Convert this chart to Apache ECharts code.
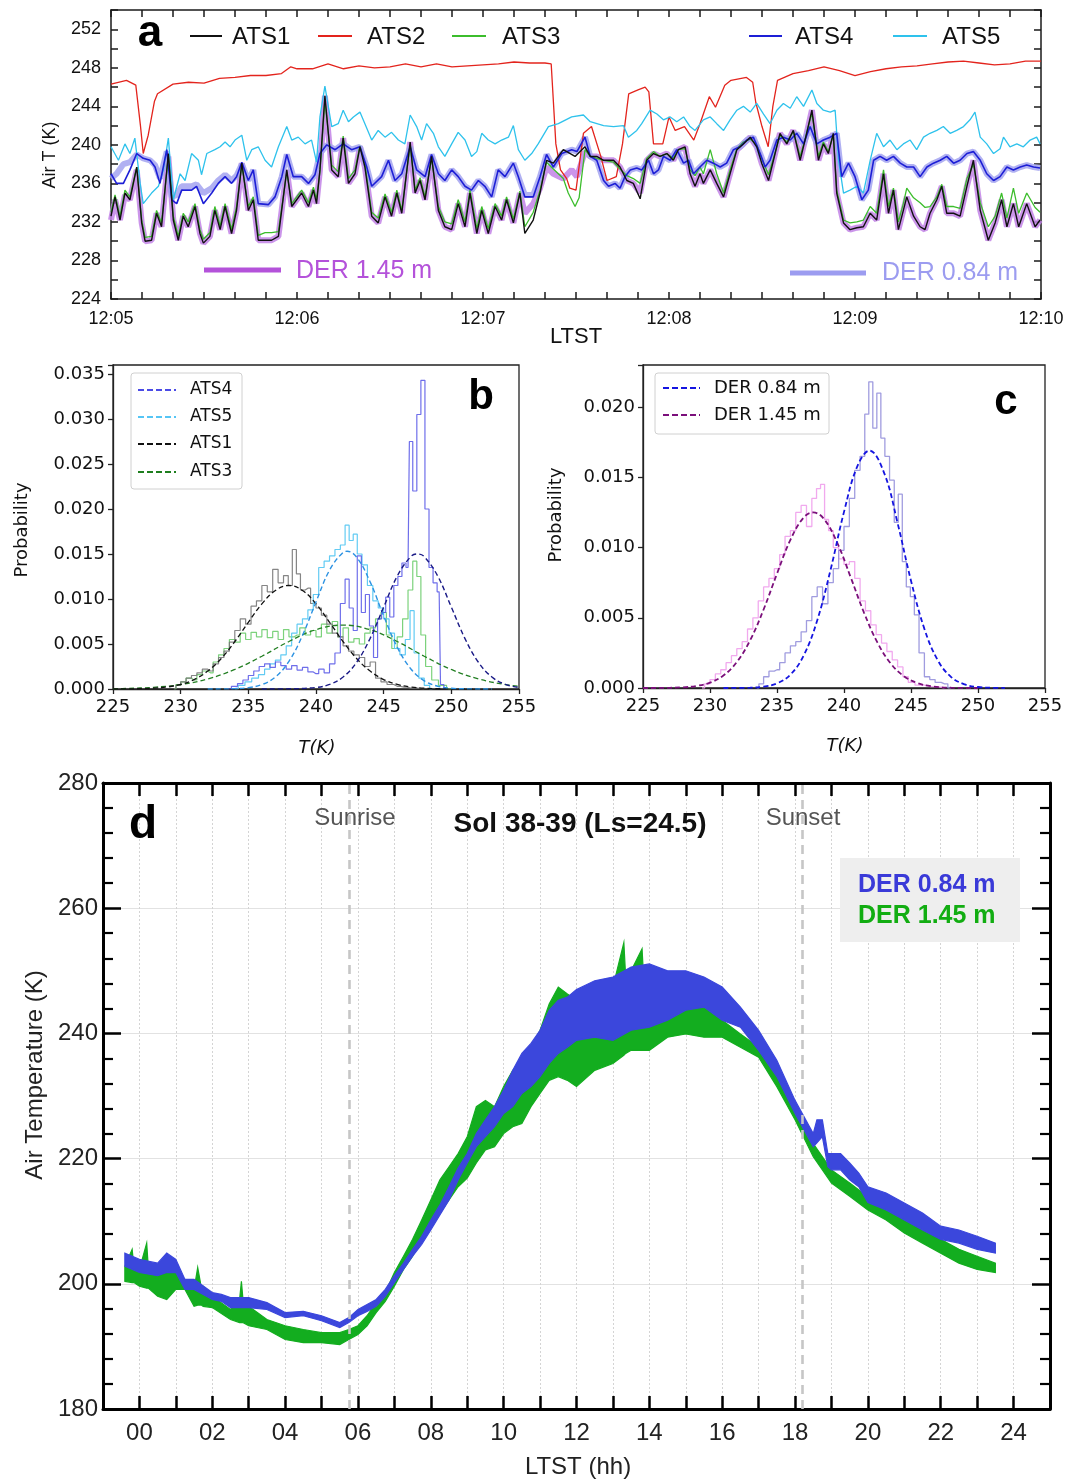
<!DOCTYPE html>
<html>
<head>
<meta charset="utf-8">
<script src="https://cdn.jsdelivr.net/npm/echarts@6.0.0/dist/echarts.min.js"></script>
<style>
  html, body { margin: 0; padding: 0; background: #fff; }
  #chart { width: 1083px; height: 1480px; }
</style>
</head>
<body>
<div id="chart"></div>
<script>
// ---------- panel a : 1 Hz air temperature, seconds after 12:05 LTST ----------
const ats1 = [[0,232.6],[1.3,234.6],[2.9,232.2],[4.5,235.0],[6.1,234.3],[8.3,237.7],[9.9,231.9],[11.0,230.0],[13.1,230.1],[14.7,232.9],[16.3,231.5],[18.5,239.1],[20.1,232.2],[21.7,230.1],[23.3,232.6],[24.9,231.5],[27.1,233.6],[28.7,230.8],[29.8,229.8],[31.9,230.5],[33.5,233.2],[35.2,231.2],[36.8,233.6],[38.9,230.8],[40.5,233.2],[42.2,238.1],[44.3,233.2],[45.9,234.3],[47.5,230.1],[49.7,230.1],[51.8,230.1],[54.0,230.5],[56.7,237.4],[58.3,233.6],[59.9,234.3],[61.5,235.0],[63.7,233.6],[65.3,235.3],[66.3,233.9],[67.4,237.4],[69.0,245.1],[71.2,237.4],[73.3,236.7],[74.9,240.7],[76.6,236.0],[78.7,237.0],[80.3,239.8],[81.9,237.7],[84.1,232.6],[86.2,231.9],[88.4,234.6],[90.5,232.6],[92.2,235.0],[93.8,232.9],[96.5,240.3],[98.1,235.0],[99.7,236.3],[101.3,234.3],[103.4,238.8],[105.6,233.2],[107.7,231.5],[109.9,231.2],[112.0,233.9],[114.2,231.5],[115.8,235.0],[118.0,230.8],[119.6,233.2],[121.7,230.8],[123.9,233.6],[126.0,232.2],[127.6,234.3],[129.8,231.9],[131.9,235.0],[133.5,230.8],[136.2,232.2],[138.4,235.0],[140.5,238.4],[142.7,238.1],[145.9,239.5],[149.7,238.8],[152.9,239.8],[154.6,238.8],[156.7,238.8],[158.9,238.4],[162.1,238.4],[164.2,237.7],[166.4,236.3],[168.5,236.0],[170.7,234.4],[172.8,238.4],[175.0,239.1],[177.1,238.8],[179.3,239.1],[181.4,238.4],[183.0,239.5],[185.2,239.8],[186.8,237.0],[188.4,235.7],[190.0,237.0],[191.1,236.0],[193.3,237.4],[195.4,236.0],[197.6,234.6],[199.7,237.0],[201.9,239.5],[204.0,240.1],[206.2,240.8],[208.3,239.8],[209.9,238.1],[212.1,236.3],[213.7,238.4],[215.8,241.2],[218.0,240.1],[220.1,241.5],[222.3,238.4],[223.9,240.5],[226.1,243.6],[228.2,238.4],[229.8,240.1],[231.4,239.1],[233.0,241.2],[234.1,235.0],[236.3,231.9],[238.4,231.2],[240.6,231.4],[242.7,231.5],[244.9,232.9],[247.0,232.2],[249.2,237.0],[250.8,232.9],[252.4,235.3],[254.0,231.2],[255.6,233.2],[256.7,234.6],[258.9,232.6],[261.0,231.5],[262.6,231.2],[264.2,232.9],[266.4,234.3],[268.0,235.7],[269.6,232.9],[271.8,232.9],[273.9,232.6],[276.1,235.7],[278.2,238.4],[280.4,233.2],[283.0,230.1],[285.2,231.9],[287.3,234.3],[289.0,231.5],[291.1,233.9],[292.8,231.5],[295.4,233.9],[298.1,231.5],[299.7,232.2]];
const ats2 = [[0,246.3],[5,246.7],[8,246.2],[9.5,242.0],[10.4,239.1],[12,241.0],[14,244.5],[15,245.3],[20,246.3],[25,246.5],[30,246.4],[35,246.9],[40,247.0],[45,247.2],[50,247.2],[55,247.4],[58,248.1],[60,247.9],[65,247.9],[70,248.4],[75,247.9],[80,248.2],[85,248.0],[90,248.1],[95,248.4],[100,248.1],[105,248.4],[110,248.1],[115,248.2],[120,248.3],[125,248.4],[130,248.6],[135,248.5],[140,248.5],[142,248.4],[143.5,240.1],[145,237.4],[147,236.5],[148,235.5],[150,235.3],[152.4,241.2],[155,241.9],[158,238.8],[160,236.3],[163,236.7],[165,240.1],[167,245.3],[170,245.7],[172.3,246.0],[173.5,245.5],[175,240.1],[178,240.1],[180,242.9],[182,241.5],[185,241.9],[188,240.5],[190,242.2],[193,245.0],[195,243.9],[198,246.2],[200,246.7],[205,247.0],[207,246.5],[208,244.4],[210,241.9],[212,239.8],[213.5,244.0],[215,246.7],[220,247.4],[225,247.7],[230,248.1],[235,247.7],[240,247.2],[245,247.6],[250,247.9],[255,248.1],[260,248.2],[265,248.4],[270,248.6],[275,248.7],[280,248.5],[285,248.3],[290,248.4],[295,248.7],[300,248.7]];
const ats3 = [[0,233.0],[1.3,234.8],[2.9,232.6],[4.5,235.3],[6.1,234.6],[8.3,237.7],[9.9,232.2],[11.0,230.4],[13.1,230.5],[14.7,233.2],[16.3,231.9],[18.5,238.8],[20.1,232.6],[21.7,230.5],[23.3,232.9],[24.9,232.0],[27.1,233.9],[28.7,231.2],[29.8,230.2],[31.9,230.9],[33.5,233.6],[35.2,231.6],[36.8,233.9],[38.9,231.2],[40.5,233.6],[42.2,237.9],[44.3,233.6],[45.9,234.6],[47.5,230.6],[49.7,230.9],[51.8,230.9],[54.0,231.0],[56.7,237.2],[58.3,233.9],[59.9,234.6],[61.5,235.3],[63.7,234.0],[65.3,235.6],[66.3,234.3],[67.4,237.2],[69.0,244.6],[71.2,237.9],[73.3,237.2],[74.9,240.9],[76.6,236.5],[78.7,237.4],[80.3,239.9],[81.9,238.0],[84.1,233.0],[86.2,232.4],[88.4,234.9],[90.5,233.0],[92.2,235.3],[93.8,233.2],[96.5,240.0],[98.1,235.3],[99.7,236.6],[101.3,234.6],[103.4,238.6],[105.6,233.6],[107.7,232.0],[109.9,231.8],[112.0,234.3],[114.2,232.0],[115.8,235.3],[118.0,231.3],[119.6,233.6],[121.7,231.3],[123.9,233.9],[126.0,232.6],[127.6,234.6],[129.8,232.3],[131.9,235.2],[133.5,231.5],[136.2,233.0],[138.4,235.3],[140.5,238.2],[142.7,237.5],[145.9,236.5],[147.5,235.0],[149.7,233.6],[151.0,234.5],[152.9,239.5],[154.6,238.8],[156.7,238.6],[158.9,238.4],[162.1,238.2],[164.2,237.5],[166.4,236.8],[168.5,236.5],[170.7,236.0],[172.8,238.6],[175.0,239.3],[177.1,238.8],[179.3,239.1],[181.4,238.6],[183.0,239.5],[185.2,239.6],[186.8,237.4],[188.4,236.8],[190.0,237.7],[191.1,237.0],[193.3,239.5],[195.4,237.0],[197.6,235.0],[199.7,237.4],[201.9,239.6],[204.0,240.3],[206.2,240.6],[208.3,240.0],[209.9,238.6],[212.1,236.9],[213.7,238.6],[215.8,241.0],[218.0,240.3],[220.1,241.4],[222.3,238.8],[223.9,240.6],[226.1,243.3],[228.2,238.8],[229.8,240.3],[231.4,239.3],[233.0,241.0],[234.1,235.3],[236.3,232.2],[238.4,231.9],[240.6,232.0],[242.7,232.2],[244.9,233.6],[247.0,232.9],[249.2,237.4],[250.8,233.6],[252.4,235.5],[254.0,232.0],[255.6,233.9],[256.7,235.5],[258.9,234.5],[261.0,234.0],[262.6,233.5],[264.2,233.6],[266.4,234.6],[268.0,235.9],[269.6,233.6],[271.8,233.6],[273.9,233.4],[276.1,236.5],[278.2,238.0],[280.4,234.0],[283.0,231.5],[285.2,232.6],[287.3,235.0],[289.0,232.4],[291.1,235.5],[292.8,232.9],[295.4,235.0],[298.1,233.5],[299.7,233.0]];
const ats4 = [[0,237.0],[1.8,236.0],[4.0,236.0],[6.1,237.4],[8.3,239.1],[10.4,238.6],[12.6,238.4],[14.2,237.7],[15.8,236.0],[18.0,239.5],[19.6,234.3],[21.2,233.9],[22.8,235.3],[26.0,235.3],[27.6,235.7],[29.8,233.9],[32.5,235.0],[34.6,236.0],[36.8,236.7],[38.9,236.0],[40.5,236.7],[42.2,238.2],[44.3,236.3],[45.9,237.4],[47.5,233.9],[50.8,233.8],[52.9,234.6],[55.1,236.7],[56.7,239.0],[58.8,236.7],[61.5,236.7],[63.7,236.0],[65.8,236.9],[67.4,239.1],[69.6,240.0],[72.3,239.5],[74.9,240.1],[77.6,239.5],[80.3,239.8],[82.5,237.7],[84.1,235.7],[87.3,236.7],[89.5,238.4],[91.6,236.3],[93.8,237.0],[96.5,239.8],[98.6,237.4],[101.3,236.7],[103.4,239.0],[105.6,237.0],[107.7,236.3],[109.9,237.4],[112.0,236.7],[114.2,235.7],[116.3,235.3],[118.5,236.3],[120.6,235.7],[122.8,234.6],[124.9,237.4],[127.1,236.7],[129.8,238.1],[131.4,236.7],[133.5,234.6],[136.2,234.6],[138.4,236.7],[140.5,239.0],[142.7,237.7],[145.4,239.1],[148.6,239.5],[150.3,239.3],[152.9,240.8],[154.6,238.8],[156.7,238.4],[158.9,236.3],[160.5,235.7],[162.6,236.0],[164.2,235.5],[165.8,236.7],[167.5,237.4],[169.6,237.6],[171.2,237.4],[173.4,238.4],[175.0,237.0],[176.6,237.4],[178.2,238.8],[180.4,238.4],[182.5,239.5],[184.7,238.1],[186.3,238.4],[187.9,237.0],[190.0,237.7],[192.2,238.4],[194.3,238.1],[196.5,237.7],[198.6,238.1],[200.8,239.5],[202.9,239.8],[205.1,240.5],[207.2,240.8],[209.4,239.1],[211.0,237.7],[212.6,238.4],[214.8,240.5],[216.9,240.8],[219.1,240.5],[221.2,241.2],[223.4,240.1],[225.5,241.9],[227.7,240.1],[229.8,240.5],[232.0,240.8],[234.1,241.2],[235.7,236.7],[237.9,238.1],[240.0,236.7],[242.2,234.3],[244.3,235.3],[246.0,238.4],[248.1,238.8],[250.2,238.4],[252.4,238.8],[254.6,238.1],[256.7,237.7],[258.9,237.7],[261.0,236.7],[263.2,237.7],[265.3,238.1],[267.5,238.4],[269.6,238.8],[271.8,238.1],[273.9,238.4],[276.1,239.1],[278.2,239.3],[280.4,238.4],[282.5,237.0],[284.7,236.3],[286.8,236.7],[289.0,237.7],[291.1,237.4],[293.3,237.7],[295.4,237.9],[297.6,237.7],[299.7,237.6]];
const ats5 = [[0,239.8],[2.4,238.4],[4.5,240.1],[6.1,239.1],[7.7,240.7],[9.4,236.0],[10.4,233.9],[13.1,235.0],[15.3,235.7],[16.9,237.4],[18.5,240.7],[20.1,234.3],[22.3,237.0],[23.9,236.3],[26.0,239.1],[28.2,238.4],[29.2,236.9],[30.9,239.1],[33.5,239.5],[35.2,239.8],[36.8,240.3],[38.4,239.8],[40.0,240.5],[42.2,241.0],[43.8,238.4],[45.4,239.5],[47.5,239.8],[49.7,238.4],[51.8,237.7],[54.0,239.8],[56.7,241.9],[58.3,240.5],[60.4,240.8],[62.6,240.1],[64.7,240.5],[66.3,238.2],[67.4,242.9],[69.0,246.1],[71.2,241.9],[73.3,242.2],[74.9,243.6],[76.6,242.4],[78.2,242.9],[80.3,243.4],[81.9,242.2],[84.1,240.5],[86.2,241.5],[88.4,240.8],[90.5,241.3],[92.7,240.5],[94.8,240.1],[96.5,243.1],[98.6,241.9],[100.2,240.5],[101.8,242.2],[104.0,241.2],[105.6,239.8],[107.7,238.8],[109.9,240.1],[112.0,241.3],[114.2,240.5],[116.3,238.8],[118.0,239.3],[119.6,241.2],[121.7,240.5],[123.9,240.1],[126.0,240.5],[128.2,240.8],[129.8,242.0],[131.4,239.5],[133.5,238.4],[135.7,239.1],[137.8,240.1],[141.1,241.9],[144.3,242.2],[148.6,242.9],[152.4,243.1],[154.6,242.4],[158.9,242.0],[162.1,241.9],[165.3,242.0],[166.9,240.8],[169.6,241.5],[171.2,242.2],[173.9,243.6],[176.1,243.2],[178.2,242.6],[180.4,242.9],[182.5,242.4],[184.7,242.9],[186.8,241.9],[188.4,241.5],[191.1,242.6],[193.3,242.9],[195.4,242.2],[197.6,241.5],[199.7,242.6],[201.9,243.6],[204.0,244.0],[206.2,243.4],[208.3,244.3],[210.5,243.2],[212.6,242.2],[214.8,243.6],[216.9,244.3],[219.1,243.8],[221.2,245.0],[223.4,244.0],[226.1,245.7],[227.7,244.3],[229.8,243.6],[232.0,243.4],[233.6,243.6],[234.7,238.4],[236.3,235.0],[238.4,235.3],[240.6,235.7],[242.7,235.0],[244.9,238.4],[247.0,241.2],[249.2,239.8],[251.3,240.5],[253.5,239.5],[255.6,240.1],[257.8,240.5],[259.9,239.5],[262.1,240.8],[264.2,241.2],[266.4,241.5],[268.5,241.9],[270.7,241.2],[272.8,241.5],[275.0,241.9],[277.1,242.6],[278.7,243.4],[280.4,240.8],[282.5,240.1],[284.7,239.1],[286.8,239.6],[287.9,240.8],[290.0,239.8],[292.2,240.1],[294.3,239.8],[296.5,240.5],[298.6,240.8],[299.7,240.1]];
const derA145 = [[0,232.2],[1.3,234.3],[2.9,232.2],[4.5,234.8],[6.1,234.3],[8.3,237.4],[9.9,231.9],[11.0,230.0],[13.1,230.1],[14.7,232.9],[16.3,231.5],[18.5,238.8],[20.1,232.2],[21.7,230.1],[23.3,232.6],[24.9,231.5],[27.1,233.6],[28.7,230.8],[29.8,229.8],[31.9,230.5],[33.5,233.2],[35.2,231.2],[36.8,233.6],[38.9,230.8],[40.5,233.2],[42.2,238.1],[44.3,233.2],[45.9,234.3],[47.5,230.1],[49.7,230.1],[51.8,230.1],[54.0,230.5],[56.7,237.4],[58.3,233.6],[59.9,234.3],[61.5,235.0],[63.7,233.6],[65.3,235.3],[66.3,233.9],[67.4,237.4],[69.0,245.1],[71.2,237.4],[73.3,236.7],[74.9,240.7],[76.6,236.0],[78.7,237.0],[80.3,239.8],[81.9,237.7],[84.1,232.6],[86.2,231.9],[88.4,234.6],[90.5,232.6],[92.2,235.0],[93.8,232.9],[96.5,240.3],[98.1,235.0],[99.7,236.3],[101.3,234.3],[103.4,238.8],[105.6,233.2],[107.7,231.5],[109.9,231.2],[112.0,233.9],[114.2,231.5],[115.8,235.0],[118.0,230.8],[119.6,233.2],[121.7,230.8],[123.9,233.6],[126.0,232.2],[127.6,234.3],[129.8,231.9],[131.9,235.0],[133.5,232.9],[136.2,233.9],[138.4,235.5],[140.5,237.7],[142.7,237.0],[145.9,236.5],[148.6,237.4],[150.3,236.7],[152.9,239.3],[154.6,238.8],[156.7,238.8],[158.9,238.4],[162.1,238.4],[164.2,237.7],[166.4,236.3],[168.5,236.0],[170.7,235.0],[172.8,238.4],[175.0,239.1],[177.1,238.8],[179.3,239.1],[181.4,238.4],[183.0,239.5],[185.2,239.8],[186.8,237.0],[188.4,235.7],[190.0,237.0],[191.1,236.0],[193.3,237.4],[195.4,236.0],[197.6,234.6],[199.7,237.0],[201.9,239.5],[204.0,240.1],[206.2,240.8],[208.3,239.8],[209.9,238.1],[212.1,236.3],[213.7,238.4],[215.8,241.2],[218.0,240.1],[220.1,241.5],[222.3,238.4],[223.9,240.5],[226.1,243.6],[228.2,238.4],[229.8,240.1],[231.4,239.1],[233.0,241.2],[234.1,235.0],[236.3,231.9],[238.4,231.2],[240.6,231.4],[242.7,231.5],[244.9,232.9],[247.0,232.2],[249.2,237.0],[250.8,232.9],[252.4,235.3],[254.0,231.2],[255.6,233.2],[256.7,234.6],[258.9,232.6],[261.0,231.5],[262.6,231.2],[264.2,232.9],[266.4,234.3],[268.0,235.7],[269.6,232.9],[271.8,232.9],[273.9,232.6],[276.1,235.7],[278.2,238.4],[280.4,233.2],[283.0,230.1],[285.2,231.9],[287.3,234.3],[289.0,231.5],[291.1,233.9],[292.8,231.5],[295.4,233.9],[298.1,231.5],[299.7,232.2]];
const derA084 = [[0,236.5],[1.8,237.0],[4.0,238.0],[6.1,238.2],[8.3,239.0],[10.4,238.6],[12.6,238.4],[14.2,237.9],[15.8,236.5],[18.0,239.3],[19.6,234.6],[21.2,234.8],[22.8,235.7],[26.0,235.7],[27.6,235.9],[29.8,235.0],[32.5,235.5],[34.6,236.3],[36.8,236.9],[38.9,236.3],[40.5,236.8],[42.2,238.0],[44.3,236.3],[45.9,237.4],[47.5,233.9],[50.8,233.8],[52.9,234.6],[55.1,236.7],[56.7,239.0],[58.8,236.7],[61.5,236.7],[63.7,236.0],[65.8,236.9],[67.4,239.1],[69.6,240.0],[72.3,239.5],[74.9,240.1],[77.6,239.5],[80.3,239.8],[82.5,237.7],[84.1,235.7],[87.3,236.7],[89.5,238.4],[91.6,236.3],[93.8,237.0],[96.5,239.8],[98.6,237.4],[101.3,236.7],[103.4,239.0],[105.6,237.0],[107.7,236.3],[109.9,237.4],[112.0,236.7],[114.2,235.7],[116.3,235.3],[118.5,236.3],[120.6,235.7],[122.8,234.6],[124.9,237.4],[127.1,236.7],[129.8,238.1],[131.4,236.7],[133.5,234.8],[136.2,234.8],[138.4,236.7],[140.5,239.0],[142.7,237.7],[145.4,239.1],[148.6,239.5],[150.3,239.3],[152.9,240.8],[154.6,238.8],[156.7,238.4],[158.9,236.3],[160.5,235.7],[162.6,236.0],[164.2,235.5],[165.8,236.7],[167.5,237.4],[169.6,237.6],[171.2,237.4],[173.4,238.4],[175.0,237.0],[176.6,237.4],[178.2,238.8],[180.4,238.4],[182.5,239.5],[184.7,238.1],[186.3,238.4],[187.9,237.0],[190.0,237.7],[192.2,238.4],[194.3,238.1],[196.5,237.7],[198.6,238.1],[200.8,239.5],[202.9,239.8],[205.1,240.5],[207.2,240.8],[209.4,239.1],[211.0,237.7],[212.6,238.4],[214.8,240.5],[216.9,240.8],[219.1,240.5],[221.2,241.2],[223.4,240.1],[225.5,241.9],[227.7,240.1],[229.8,240.5],[232.0,240.8],[234.1,241.2],[235.7,236.7],[237.9,238.1],[240.0,236.7],[242.2,234.3],[244.3,235.3],[246.0,238.4],[248.1,238.8],[250.2,238.4],[252.4,238.8],[254.6,238.1],[256.7,237.7],[258.9,237.7],[261.0,236.7],[263.2,237.7],[265.3,238.1],[267.5,238.4],[269.6,238.8],[271.8,238.1],[273.9,238.4],[276.1,239.1],[278.2,239.3],[280.4,238.4],[282.5,237.0],[284.7,236.3],[286.8,236.7],[289.0,237.7],[291.1,237.4],[293.3,237.7],[295.4,237.9],[297.6,237.7],[299.7,237.6]];

// ---------- panel b : histograms [T, probability] and gaussian fits ----------
const histAts4 = [[233.5,0],[234,0.0003],[234.4,0.0006],[234.8,0.001],[235.2,0.0015],[235.6,0.002],[236,0.0025],[236.4,0.0028],[236.8,0.0024],[237.2,0.003],[237.6,0.0026],[238,0.0022],[238.4,0.0026],[238.8,0.0021],[239.2,0.0024],[239.6,0.0019],[240,0.0017],[240.4,0.0022],[240.8,0.0018],[241.2,0.0028],[241.6,0.004],[242,0.0095],[242.3,0.0122],[242.6,0.009],[242.9,0.0065],[243.2,0.0148],[243.5,0.0085],[243.8,0.0105],[244.1,0.007],[244.4,0.0035],[244.7,0.0078],[245,0.0085],[245.3,0.0102],[245.6,0.008],[245.9,0.0115],[246.2,0.0125],[246.5,0.014],[246.8,0.0135],[247,0.0275],[247.3,0.022],[247.6,0.0305],[247.9,0.0343],[248.2,0.02],[248.5,0.0135],[248.8,0.0118],[249.1,0.0108],[249.3,0.0005],[249.6,0]];
const histAts5 = [[234,0],[234.5,0.0004],[235,0.0008],[235.5,0.0012],[236,0.0016],[236.4,0.0022],[236.8,0.0028],[237.2,0.0032],[237.6,0.0038],[238,0.0048],[238.4,0.0062],[238.8,0.0072],[239.2,0.0078],[239.6,0.0088],[240,0.0105],[240.4,0.0135],[240.8,0.0142],[241.2,0.0148],[241.6,0.0155],[242,0.016],[242.3,0.0182],[242.6,0.0165],[242.9,0.0172],[243.2,0.015],[243.6,0.0138],[244,0.0115],[244.4,0.0098],[244.8,0.009],[245.2,0.0078],[245.6,0.0062],[246,0.0045],[246.4,0.0038],[246.8,0.0055],[247.1,0.0087],[247.4,0.004],[247.8,0.0012],[248.2,0.0004],[248.6,0]];
const histAts1 = [[229.5,0],[229.8,0.0004],[230.2,0.0008],[230.6,0.0012],[231,0.0015],[231.4,0.0018],[231.8,0.0022],[232.2,0.002],[232.6,0.0028],[233,0.0035],[233.4,0.0042],[233.8,0.0052],[234.2,0.0065],[234.6,0.0078],[235,0.0072],[235.4,0.0092],[235.8,0.0098],[236.2,0.0115],[236.6,0.0108],[237,0.0133],[237.4,0.0118],[237.8,0.0126],[238.1,0.0115],[238.4,0.0155],[238.7,0.0128],[239,0.011],[239.4,0.0112],[239.8,0.0095],[240.2,0.009],[240.6,0.0082],[241,0.0072],[241.4,0.0062],[241.8,0.0058],[242.2,0.0048],[242.6,0.0042],[243,0.0038],[243.4,0.0035],[243.8,0.0025],[244.2,0.003],[244.6,0.0012],[245,0.0008],[245.5,0.0005],[246,0.0003],[246.5,0.0002],[247,0.0001],[248,0]];
const histAts3 = [[229.5,0],[229.8,0.0005],[230.2,0.0008],[230.6,0.0012],[231,0.001],[231.4,0.0016],[231.8,0.002],[232.2,0.0018],[232.6,0.003],[233,0.0038],[233.4,0.0045],[233.8,0.0055],[234.2,0.0052],[234.6,0.0062],[235,0.0055],[235.4,0.0063],[235.8,0.0058],[236.2,0.0066],[236.6,0.0057],[237,0.0064],[237.4,0.0055],[237.8,0.0066],[238.2,0.0058],[238.6,0.006],[239,0.0068],[239.4,0.006],[239.8,0.0065],[240.2,0.0058],[240.6,0.0072],[241,0.0062],[241.4,0.0075],[241.8,0.0058],[242.2,0.0068],[242.6,0.0052],[243,0.0056],[243.4,0.005],[243.8,0.0062],[244.2,0.0068],[244.6,0.0078],[245,0.0085],[245.4,0.006],[245.8,0.0045],[246.2,0.0058],[246.6,0.0078],[247,0.011],[247.3,0.0142],[247.6,0.0125],[247.9,0.006],[248.3,0.0025],[248.8,0.001],[249.3,0.0004],[250,0]];
const fitAts4 = [[236,0],[238,0.00002],[240,0.00017],[241,0.00051],[242,0.00133],[243,0.00297],[244,0.00563],[245,0.0091],[246,0.01253],[247,0.0147],[247.5,0.015],[248,0.0147],[249,0.01253],[250,0.0091],[251,0.00563],[252,0.00297],[253,0.00133],[254,0.00051],[255,0.00017]];
const fitAts5 = [[232,0],[233,0.00001],[234,0.00004],[235,0.00015],[236,0.00049],[237,0.00133],[238,0.00307],[239,0.00595],[240,0.00967],[241,0.0132],[242,0.01518],[242.3,0.0153],[243,0.01466],[244,0.0119],[245,0.00812],[246,0.00466],[247,0.00225],[248,0.00091],[249,0.00031],[250,0.00009],[251,0.00002],[253,0]];
const fitAts1 = [[225,0],[226,0.00001],[228,0.00009],[229,0.00022],[230,0.00051],[231,0.00105],[232,0.00199],[233,0.00339],[234,0.00527],[235,0.00741],[236,0.00946],[237,0.01095],[238,0.0115],[239,0.01095],[240,0.00946],[241,0.00741],[242,0.00527],[243,0.00339],[244,0.00199],[245,0.00105],[246,0.00051],[247,0.00022],[248,0.00009],[250,0.00001],[252,0]];
const fitAts3 = [[225,0.00003],[226,0.00006],[228,0.00019],[230,0.00049],[232,0.00112],[234,0.00217],[236,0.00364],[238,0.00528],[240,0.00659],[242,0.0071],[244,0.00659],[246,0.00528],[248,0.00364],[250,0.00217],[252,0.00112],[254,0.00049],[255,0.00031]];

// ---------- panel c ----------
const histDer084 = [[233.5,0],[233.8,0.0003],[234.2,0.0008],[234.6,0.0012],[235,0.0013],[235.4,0.0018],[235.8,0.0025],[236.2,0.003],[236.6,0.0033],[237,0.004],[237.4,0.0048],[237.8,0.0065],[238.2,0.0072],[238.6,0.006],[239,0.0075],[239.4,0.0085],[239.8,0.0098],[240.2,0.0115],[240.6,0.0135],[241,0.0155],[241.4,0.0165],[241.7,0.0195],[242,0.0218],[242.3,0.0185],[242.6,0.021],[242.9,0.0178],[243.2,0.0165],[243.6,0.0148],[243.9,0.0118],[244.2,0.0138],[244.5,0.009],[244.8,0.0072],[245.1,0.0065],[245.4,0.0052],[245.8,0.0025],[246.2,0.0008],[246.6,0.0006],[247,0.0004],[247.5,0.0003],[248,0]];
const histDer145 = [[229.4,0],[229.8,0.0003],[230.2,0.0006],[230.6,0.001],[231,0.0013],[231.4,0.0018],[231.8,0.0023],[232.2,0.0028],[232.6,0.0033],[233,0.0042],[233.4,0.005],[233.8,0.0062],[234.2,0.0072],[234.6,0.0078],[235,0.0085],[235.4,0.0095],[235.8,0.0108],[236.2,0.0112],[236.6,0.0125],[237,0.013],[237.4,0.0115],[237.8,0.0135],[238.1,0.0142],[238.4,0.0145],[238.7,0.012],[239,0.0112],[239.4,0.01],[239.8,0.0092],[240.2,0.0088],[240.6,0.009],[241,0.0078],[241.4,0.0062],[241.8,0.0055],[242.2,0.0045],[242.6,0.0038],[243,0.0032],[243.4,0.0026],[243.8,0.002],[244.2,0.0015],[244.6,0.0008],[245,0.0004],[245.6,0.0002],[246.5,0.0001],[247.5,0]];
const fitDer084 = [[231,0],[233,0.00002],[234,0.0001],[235,0.00033],[236,0.00095],[237,0.00233],[238,0.00481],[239,0.00843],[240,0.01254],[241,0.0158],[241.9,0.0169],[243,0.0153],[244,0.01174],[245,0.00764],[246,0.00421],[247,0.00197],[248,0.00078],[249,0.00026],[250,0.00007],[251,0.00002],[252,0]];
const fitDer145 = [[225,0],[226,0.000004],[228,0.00005],[229,0.00015],[230,0.00038],[231,0.00089],[232,0.00185],[233,0.00341],[234,0.00559],[235,0.00814],[236,0.01055],[237,0.01215],[237.7,0.0125],[238.5,0.01204],[239.5,0.01033],[240.5,0.00788],[241.5,0.00535],[242.5,0.00323],[243.5,0.00173],[244.5,0.00082],[245.5,0.00035],[246.5,0.00013],[248,0.00002],[250,0]];

// ---------- panel d : diurnal cycle, [hour, low, high] envelope of the scatter ----------
const der145Band = [[-0.4,200.4,202.8],[-0.2,200.2,205.5],[-0.15,200.2,202.6],[0,199.6,202.3],[0.2,199.3,206.5],[0.25,199.3,202.0],[0.5,198.0,201.8],[0.75,197.5,201.8],[1.0,199.1,201.8],[1.25,199.1,200.7],[1.5,196.4,199.1],[1.6,196.6,202.6],[1.7,196.6,199.4],[1.75,196.4,199.6],[2.0,196.2,198.0],[2.5,194.3,195.9],[2.75,193.8,197.5],[2.8,193.8,200.4],[2.85,193.8,197.0],[3.0,193.3,196.4],[3.5,192.7,194.3],[4.0,191.1,193.3],[4.5,190.6,192.7],[5.0,190.6,192.2],[5.5,190.3,192.2],[5.75,191.1,192.7],[6.0,191.9,193.3],[6.25,193.3,194.9],[6.5,195.4,197.0],[6.75,197.2,198.6],[7.0,199.6,201.8],[7.25,202.3,204.4],[7.5,204.4,207.1],[7.75,207.1,210.2],[8.0,209.2,213.4],[8.25,211.3,216.6],[8.5,213.4,218.7],[8.75,215.5,220.8],[9.0,216.9,223.5],[9.25,219.3,228.3],[9.5,221.4,229.3],[9.75,221.9,228.3],[10.0,224.0,231.5],[10.25,225.1,234.1],[10.5,225.6,235.7],[10.75,228.3,237.8],[11.0,230.4,240.5],[11.25,232.5,244.7],[11.5,233.1,247.4],[11.75,232.5,246.3],[12.0,231.5,245.3],[12.5,234.1,244.2],[13.0,235.2,247.4],[13.3,236.5,254.5],[13.35,236.8,249.0],[13.5,237.3,250.0],[13.8,237.3,253.5],[13.85,237.3,248.0],[14.0,237.3,247.4],[14.5,239.4,247.4],[15.0,239.9,247.4],[15.5,239.4,244.2],[16.0,239.4,242.1],[16.5,237.8,239.9],[17.0,236.2,237.8],[17.5,231.5,233.6],[18.0,226.2,227.7],[18.5,220.3,222.4],[19.0,216.1,218.2],[19.5,214.0,216.1],[20.0,211.8,213.9],[20.5,210.2,212.3],[21.0,208.1,210.2],[21.5,206.5,208.6],[22.0,204.9,207.1],[22.5,203.3,205.5],[23.0,202.3,204.4],[23.5,201.8,203.3]];
const der084Band = [[-0.4,202.8,204.9],[0,201.8,203.9],[0.5,201.3,203.3],[0.75,201.8,204.9],[1.0,201.8,203.9],[1.25,199.1,200.7],[1.5,199.1,200.7],[2.0,197.5,198.6],[2.25,197.2,198.3],[2.5,196.2,197.8],[3.0,196.2,197.8],[3.5,195.9,197.0],[4.0,194.6,195.4],[4.5,194.9,195.6],[5.0,194.1,194.9],[5.5,193.0,193.8],[5.75,193.8,194.6],[6.0,194.9,195.9],[6.25,195.6,196.7],[6.5,196.4,197.5],[6.75,198.0,199.1],[7.0,200.2,201.3],[7.25,202.3,203.3],[7.5,204.4,205.5],[7.75,206.3,207.6],[8.0,208.6,210.2],[8.25,211.0,212.6],[8.5,213.4,215.5],[8.75,216.6,218.5],[9.0,219.3,220.8],[9.25,221.9,224.0],[9.5,223.5,226.2],[9.75,225.1,228.3],[10.0,227.2,230.9],[10.25,228.3,234.1],[10.5,230.4,236.8],[10.75,231.5,238.4],[11.0,233.1,240.5],[11.25,235.2,243.7],[11.5,236.8,245.3],[11.75,237.8,245.8],[12.0,238.9,247.0],[12.5,239.4,248.4],[13.0,238.9,249.0],[13.5,240.5,250.6],[14.0,241.0,251.1],[14.5,242.1,250.0],[15.0,243.7,250.0],[15.5,244.2,249.0],[16.0,242.1,247.4],[16.5,241.0,244.2],[17.0,237.3,240.5],[17.5,233.1,235.7],[18.0,227.2,229.3],[18.5,221.9,224.0],[18.6,222.5,226.2],[18.75,223.5,226.2],[18.9,218.7,220.8],[19.0,218.2,220.8],[19.25,218.2,220.8],[19.5,216.6,219.3],[19.75,215.5,217.7],[20.0,213.0,215.5],[20.5,211.8,214.5],[21.0,210.2,212.9],[21.5,208.6,211.3],[22.0,207.1,209.2],[22.5,206.5,208.6],[23.0,205.5,207.6],[23.5,204.9,206.5]];
const sunriseHour = 5.77;
const sunsetHour = 18.2;

const ARIAL = "'Liberation Sans', Arial, sans-serif";
const DEJAVU = "'DejaVu Sans', sans-serif";

const chart = echarts.init(document.getElementById("chart"), null, { renderer: "canvas" });

function lineA(name, data, color, width, opacity) {
  return {
    name: name, type: "line", xAxisIndex: 0, yAxisIndex: 0, data: data,
    symbol: "none", silent: true,
    lineStyle: { color: color, width: width, opacity: opacity == null ? 1 : opacity },
  };
}
function histLine(data, color, xi, width) {
  return {
    type: "line", xAxisIndex: xi, yAxisIndex: xi, data: data, step: "middle",
    symbol: "none", silent: true, lineStyle: { color: color, width: width || 1.2 },
  };
}
function fitLine(data, color, xi, width) {
  return {
    type: "line", xAxisIndex: xi, yAxisIndex: xi, data: data, smooth: 0.4,
    symbol: "none", silent: true, lineStyle: { color: color, width: width, type: [5, 3] },
  };
}
function bandSeries(band, color) {
  return {
    type: "custom", xAxisIndex: 4, yAxisIndex: 4, clip: true, silent: true,
    data: [[band[0][0], band[0][1]]],
    renderItem: function (params, api) {
      const pts = [];
      band.forEach(function (r) { pts.push(api.coord([r[0], r[1]])); });
      for (let i = band.length - 1; i >= 0; i--) pts.push(api.coord([band[i][0], band[i][2]]));
      return { type: "polygon", shape: { points: pts }, style: { fill: color, stroke: color, lineWidth: 1.2 } };
    },
  };
}
function txt(x, y, s, font, color, align, rot) {
  return {
    type: "text", x: x, y: y, rotation: rot || 0, z: 100, silent: true,
    style: { text: s, font: font, fill: color, align: align || "left", textAlign: align || "left", verticalAlign: "middle", textVerticalAlign: "middle" },
  };
}
function seg(x1, y1, x2, y2, color, width, dash) {
  return { type: "line", z: 100, silent: true, shape: { x1: x1, y1: y1, x2: x2, y2: y2 }, style: { stroke: color, lineWidth: width, lineDash: dash || null } };
}

const isStep = function (v, step) { return Math.abs(v / step - Math.round(v / step)) < 1e-6; };

const axA = { color: "#1a1a1a", width: 1.5 };
const axBC = { color: "#222", width: 1.3 };
const axD = { color: "#000", width: 3 };

const option = {
  animation: false,
  backgroundColor: "#fff",
  grid: [
    { left: 111, top: 10, width: 930, height: 289 },
    { left: 113, top: 365, width: 406, height: 324, show: true, borderColor: "#222", borderWidth: 1.3 },
    { left: 643, top: 365, width: 402, height: 323, show: true, borderColor: "#222", borderWidth: 1.3 },
    { left: 103, top: 783, width: 947, height: 626 },
  ],
  xAxis: [
    { gridIndex: 0, type: "value", min: 0, max: 300, interval: 10, position: "bottom",
      axisLine: { onZero: false, lineStyle: axA }, axisTick: { inside: true, length: 7, lineStyle: axA },
      axisLabel: { margin: 11, fontSize: 18, fontFamily: ARIAL, color: "#111",
        formatter: function (v) { return v % 60 === 0 ? "12:" + String(5 + v / 60).padStart(2, "0") : ""; } },
      splitLine: { show: false } },
    { gridIndex: 0, type: "value", min: 0, max: 300, interval: 10, position: "top",
      axisLine: { onZero: false, lineStyle: axA }, axisTick: { inside: true, length: 7, lineStyle: axA },
      axisLabel: { show: false }, splitLine: { show: false } },
    { gridIndex: 1, type: "value", min: 225, max: 255, interval: 5,
      axisLine: { onZero: false, lineStyle: axBC }, axisTick: { length: 5, lineStyle: axBC },
      axisLabel: { margin: 9, fontSize: 18, fontFamily: DEJAVU, color: "#111" }, splitLine: { show: false } },
    { gridIndex: 2, type: "value", min: 225, max: 255, interval: 5,
      axisLine: { onZero: false, lineStyle: axBC }, axisTick: { length: 5, lineStyle: axBC },
      axisLabel: { margin: 9, fontSize: 18, fontFamily: DEJAVU, color: "#111" }, splitLine: { show: false } },
    { gridIndex: 3, type: "value", min: -1, max: 25, interval: 1, position: "bottom",
      axisLine: { onZero: false, lineStyle: axD }, axisTick: { inside: true, length: 13, lineStyle: { color: "#000", width: 2.5 } },
      axisLabel: { margin: 12, fontSize: 24, fontFamily: ARIAL, color: "#222",
        formatter: function (v) { return v >= 0 && v <= 24 && v % 2 === 0 ? String(v).padStart(2, "0") : ""; } },
      splitLine: { show: true, lineStyle: { color: "#d4d4d4", width: 1, type: [2, 2] } } },
    { gridIndex: 3, type: "value", min: -1, max: 25, interval: 1, position: "top",
      axisLine: { onZero: false, lineStyle: axD }, axisTick: { inside: true, length: 13, lineStyle: { color: "#000", width: 2.5 } },
      axisLabel: { show: false }, splitLine: { show: false } },
  ],
  yAxis: [
    { gridIndex: 0, type: "value", min: 224, max: 254, interval: 2, position: "left",
      axisLine: { onZero: false, lineStyle: axA }, axisTick: { inside: true, length: 7, lineStyle: axA },
      axisLabel: { margin: 10, fontSize: 18, fontFamily: ARIAL, color: "#111",
        formatter: function (v) { return v % 4 === 0 ? String(v) : ""; } },
      splitLine: { show: false } },
    { gridIndex: 0, type: "value", min: 224, max: 254, interval: 2, position: "right",
      axisLine: { onZero: false, lineStyle: axA }, axisTick: { inside: true, length: 7, lineStyle: axA },
      axisLabel: { show: false }, splitLine: { show: false } },
    { gridIndex: 1, type: "value", min: 0, max: 0.036, interval: 0.005,
      axisLine: { show: true, onZero: false, lineStyle: axBC }, axisTick: { show: true, length: 5, lineStyle: axBC },
      axisLabel: { margin: 8, fontSize: 18, fontFamily: DEJAVU, color: "#111",
        formatter: function (v) { return isStep(v, 0.005) ? v.toFixed(3) : ""; } },
      splitLine: { show: false } },
    { gridIndex: 2, type: "value", min: 0, max: 0.023, interval: 0.005,
      axisLine: { show: true, onZero: false, lineStyle: axBC }, axisTick: { show: true, length: 5, lineStyle: axBC },
      axisLabel: { margin: 8, fontSize: 18, fontFamily: DEJAVU, color: "#111",
        formatter: function (v) { return isStep(v, 0.005) ? v.toFixed(3) : ""; } },
      splitLine: { show: false } },
    { gridIndex: 3, type: "value", min: 180, max: 280, interval: 20, position: "left",
      axisLine: { onZero: false, lineStyle: axD }, axisTick: { inside: true, length: 18, lineStyle: { color: "#000", width: 2.5 } },
      minorTick: { show: true, splitNumber: 5, length: 10, lineStyle: { color: "#000", width: 2.2 } },
      axisLabel: { margin: 5, fontSize: 24, fontFamily: ARIAL, color: "#222" },
      splitLine: { show: true, lineStyle: { color: "#e2e2e2", width: 1 } } },
    { gridIndex: 3, type: "value", min: 180, max: 280, interval: 20, position: "right",
      axisLine: { onZero: false, lineStyle: axD }, axisTick: { inside: true, length: 18, lineStyle: { color: "#000", width: 2.5 } },
      minorTick: { show: true, splitNumber: 5, length: 10, lineStyle: { color: "#000", width: 2.2 } },
      axisLabel: { show: false }, splitLine: { show: false } },
  ],
  series: [
    // panel a
    lineA("DER 1.45 m", derA145, "#c283e6", 6, 0.85),
    lineA("DER 0.84 m", derA084, "#a3a3f0", 6, 0.85),
    lineA("ATS2", ats2, "#e3241d", 1.3),
    lineA("ATS5", ats5, "#2ec2ec", 1.3),
    lineA("ATS3", ats3, "#3cbd2c", 1.3),
    lineA("ATS4", ats4, "#1d1fd6", 1.6),
    lineA("ATS1", ats1, "#111111", 1.4),
    // panel b
    histLine(histAts3, "rgba(110,205,110,0.9)", 2),
    histLine(histAts1, "rgba(120,120,120,0.9)", 2),
    histLine(histAts5, "rgba(90,200,242,0.95)", 2),
    histLine(histAts4, "rgba(85,85,230,0.85)", 2),
    fitLine(fitAts3, "#237f23", 2, 1.3),
    fitLine(fitAts1, "#111111", 2, 1.3),
    fitLine(fitAts5, "#2c92e2", 2, 1.4),
    fitLine(fitAts4, "#1a1a86", 2, 1.4),
    // panel c
    histLine(histDer145, "rgba(240,160,236,0.9)", 3, 1.3),
    histLine(histDer084, "rgba(150,145,220,0.9)", 3, 1.3),
    fitLine(fitDer145, "#7b0f7b", 3, 1.8),
    fitLine(fitDer084, "#1414e0", 3, 1.8),
    // panel d
    { type: "line", xAxisIndex: 4, yAxisIndex: 4, data: [], silent: true,
      markLine: { silent: true, symbol: ["none", "none"], label: { show: false },
        lineStyle: { color: "#c6c6c6", type: [9, 6], width: 2.6 },
        data: [{ xAxis: sunriseHour }, { xAxis: sunsetHour }] } },
    bandSeries(der145Band, "#13ad1f"),
    bandSeries(der084Band, "#3b47dc"),
  ],
  graphic: [
    // panel a
    txt(150, 34, "a", "bold 44px " + ARIAL, "#000", "center"),
    seg(190, 36, 222, 36, "#111", 2), txt(232, 37, "ATS1", "24px " + ARIAL, "#111"),
    seg(318, 36, 352, 36, "#e3241d", 2), txt(367, 37, "ATS2", "24px " + ARIAL, "#111"),
    seg(452, 36, 486, 36, "#3cbd2c", 2), txt(502, 37, "ATS3", "24px " + ARIAL, "#111"),
    seg(749, 36, 782, 36, "#1d1fd6", 2), txt(795, 37, "ATS4", "24px " + ARIAL, "#111"),
    seg(893, 36, 927, 36, "#2ec2ec", 2), txt(942, 37, "ATS5", "24px " + ARIAL, "#111"),
    seg(204, 270, 281, 270, "#b452da", 5), txt(296, 271, "DER 1.45 m", "25px " + ARIAL, "#b452da"),
    seg(790, 273, 866, 273, "#9c9cf0", 5), txt(882, 273, "DER 0.84 m", "25px " + ARIAL, "#9c9cf0"),
    txt(50, 155, "Air T (K)", "18px " + ARIAL, "#111", "center", Math.PI / 2),
    txt(576, 337, "LTST", "22px " + ARIAL, "#111", "center"),
    // panel b
    { type: "rect", z: 99, silent: true, shape: { x: 131, y: 373, width: 111, height: 116, r: 3 },
      style: { fill: "rgba(255,255,255,0.85)", stroke: "#d0d0d0", lineWidth: 1 } },
    seg(138, 390, 176, 390, "#4b4be6", 2, [6, 3]), txt(190, 390, "ATS4", "17px " + DEJAVU, "#111"),
    seg(138, 417, 176, 417, "#55c5f5", 2, [6, 3]), txt(190, 417, "ATS5", "17px " + DEJAVU, "#111"),
    seg(138, 444, 176, 444, "#111111", 2, [6, 3]), txt(190, 444, "ATS1", "17px " + DEJAVU, "#111"),
    seg(138, 472, 176, 472, "#1e7e1e", 2, [6, 3]), txt(190, 472, "ATS3", "17px " + DEJAVU, "#111"),
    txt(481, 397, "b", "bold 42px " + ARIAL, "#000", "center"),
    txt(22, 530, "Probability", "18px " + DEJAVU, "#111", "center", Math.PI / 2),
    txt(317, 748, "T(K)", "italic 18px " + DEJAVU, "#111", "center"),
    // panel c
    { type: "rect", z: 99, silent: true, shape: { x: 655, y: 373, width: 174, height: 61, r: 3 },
      style: { fill: "rgba(255,255,255,0.85)", stroke: "#d0d0d0", lineWidth: 1 } },
    seg(663, 388, 700, 388, "#1414e0", 2, [6, 3]), txt(714, 388, "DER 0.84 m", "18px " + DEJAVU, "#111"),
    seg(663, 415, 700, 415, "#7b0f7b", 2, [6, 3]), txt(714, 415, "DER 1.45 m", "18px " + DEJAVU, "#111"),
    txt(1006, 402, "c", "bold 42px " + ARIAL, "#000", "center"),
    txt(556, 515, "Probability", "18px " + DEJAVU, "#111", "center", Math.PI / 2),
    txt(845, 746, "T(K)", "italic 18px " + DEJAVU, "#111", "center"),
    // panel d
    txt(143, 825, "d", "bold 46px " + ARIAL, "#000", "center"),
    txt(355, 818, "Sunrise", "24px " + ARIAL, "#555", "center"),
    txt(803, 818, "Sunset", "24px " + ARIAL, "#555", "center"),
    txt(580, 824, "Sol 38-39 (Ls=24.5)", "bold 28px " + ARIAL, "#111", "center"),
    { type: "rect", z: 99, silent: true, shape: { x: 840, y: 858, width: 180, height: 84 }, style: { fill: "#eeeeee" } },
    txt(858, 885, "DER 0.84 m", "bold 25px " + ARIAL, "#3a3ad8"),
    txt(858, 916, "DER 1.45 m", "bold 25px " + ARIAL, "#12ad12"),
    txt(35, 1075, "Air Temperature (K)", "24px " + ARIAL, "#222", "center", Math.PI / 2),
    txt(578, 1467, "LTST (hh)", "24px " + ARIAL, "#222", "center"),
  ],
};

chart.setOption(option);
</script>
</body>
</html>
